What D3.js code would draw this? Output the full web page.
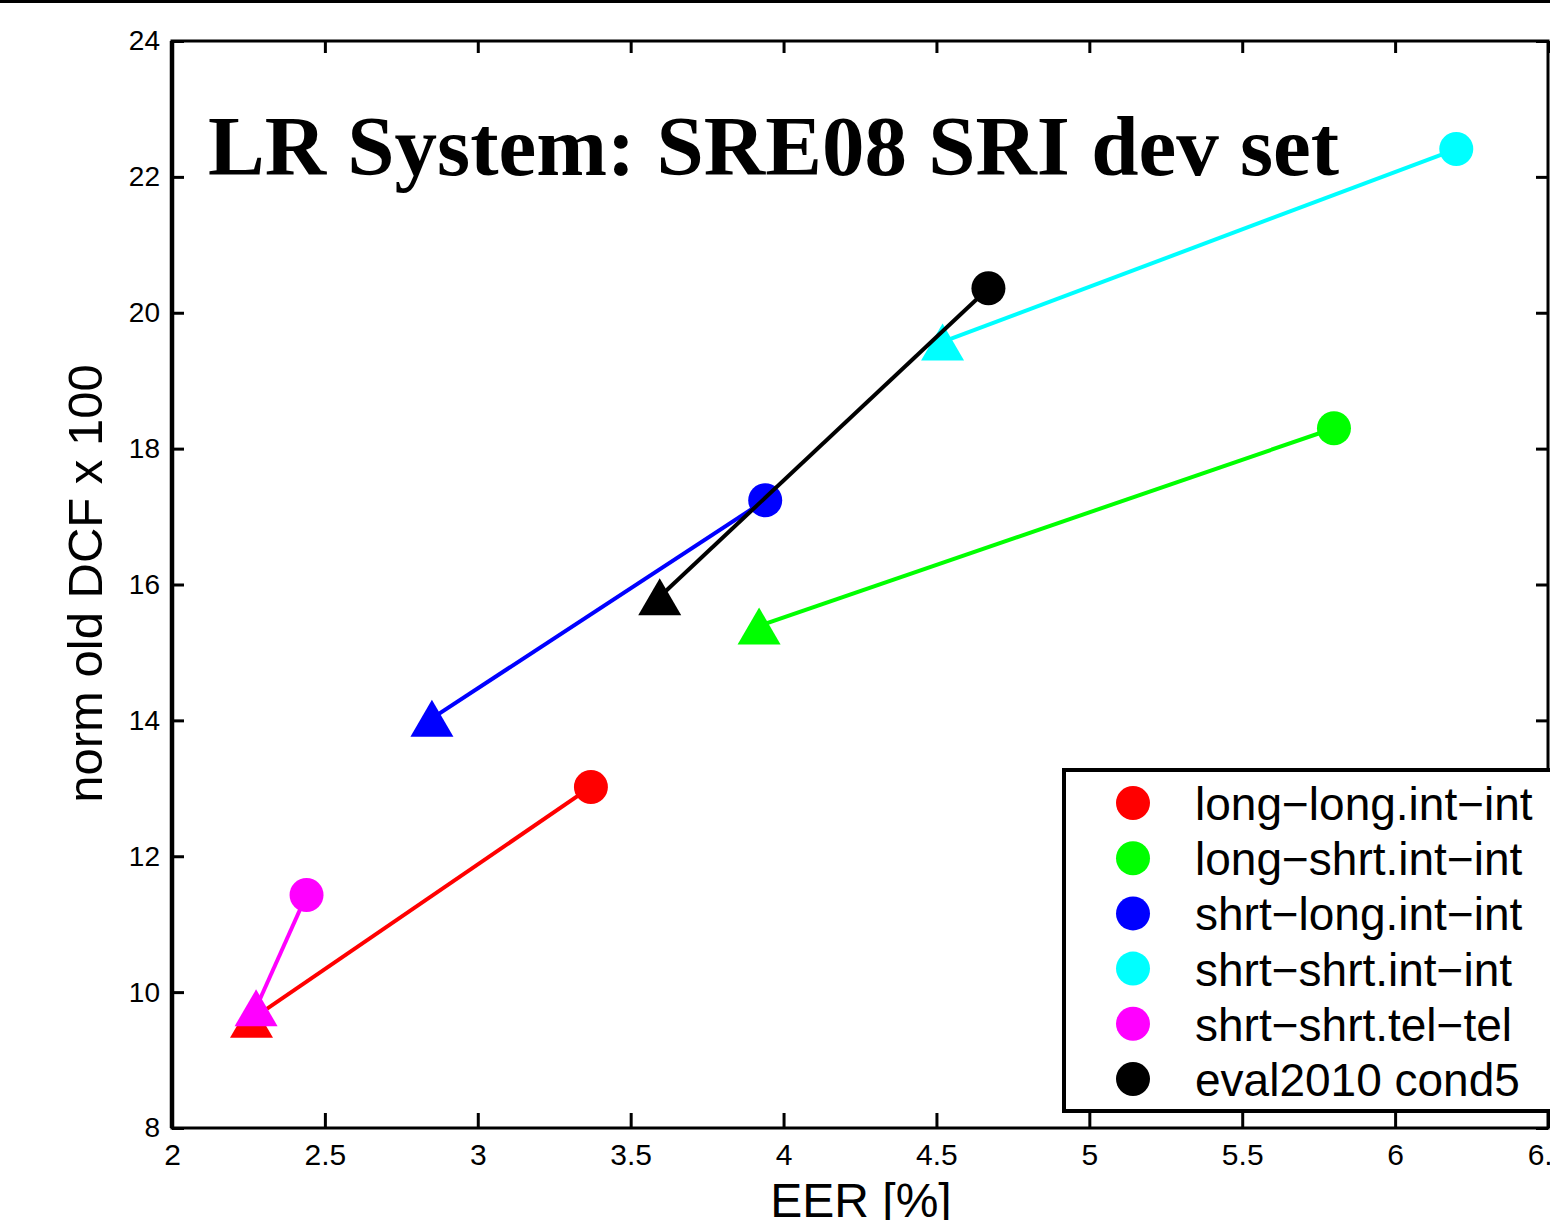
<!DOCTYPE html>
<html>
<head>
<meta charset="utf-8">
<script src="https://cdn.jsdelivr.net/npm/d3@7"></script>
<style>
  body { margin: 0; background: #fff; }
  svg { display: block; }
</style>
</head>
<body>
<svg id="chart"></svg>
<script>
var W = 1550, H = 1220;
var margin = { top: 41, left: 172, right: 2, bottom: 92 }

// series: circle = start, triangle = end
var names = ["long\u2212long.int\u2212int", "long\u2212shrt.int\u2212int", "shrt\u2212long.int\u2212int",
             "shrt\u2212shrt.int\u2212int", "shrt\u2212shrt.tel\u2212tel", "eval2010 cond5"]
var colors = ["#ff0000", "#00ff00", "#0000ff", "#00ffff", "#ff00ff", "#000000"]
var startEER = [3.37, 5.80, 3.94, 6.20, 2.44, 4.67]
var startDCF = [13.02, 18.30, 17.24, 22.41, 11.43, 20.36]
var endEER   = [2.26, 3.92, 2.85, 4.52, 2.275, 3.595]
var endDCF   = [9.60, 15.39, 14.03, 19.57, 9.77, 15.82]

var xTicks = [2, 2.5, 3, 3.5, 4, 4.5, 5, 5.5, 6, 6.5]
var yTicks = [8, 10, 12, 14, 16, 18, 20, 22, 24]

var svg = d3.select("#chart").attr("width", W).attr("height", H)

// thin rule at very top of page
svg.append("rect").attr("x", 0).attr("y", 0).attr("width", W).attr("height", 3).attr("fill", "#000")

var x = d3.scaleLinear().domain([2, 6.5]).range([margin.left, W - margin.right])
var y = d3.scaleLinear().domain([8, 24]).range([H - margin.bottom, margin.top])

var tickFont = "'Liberation Sans', Arial, Helvetica, sans-serif"

function styleAxis(g) {
    g.select(".domain").remove()
    g.selectAll(".tick line").attr("stroke", "#000").attr("stroke-width", 3)
    g.selectAll(".tick text").attr("fill", "#000").style("font-family", tickFont)
}

svg.append("g")
    .attr("transform", "translate(0," + y(8) + ")")
    .call(d3.axisBottom(x).tickValues(xTicks).tickSize(-15).tickPadding(16).tickFormat(d3.format("")))
    .call(styleAxis)
    .selectAll("text").style("font-size", "30px")

svg.append("g")
    .attr("transform", "translate(0," + y(24) + ")")
    .call(d3.axisTop(x).tickValues(xTicks).tickSize(-12).tickFormat(""))
    .call(styleAxis)

svg.append("g")
    .attr("transform", "translate(" + x(2) + ",0)")
    .call(d3.axisLeft(y).tickValues(yTicks).tickSize(-12).tickPadding(12).tickFormat(d3.format("")))
    .call(styleAxis)
    .selectAll("text").style("font-size", "28px")

svg.append("g")
    .attr("transform", "translate(" + x(6.5) + ",0)")
    .call(d3.axisRight(y).tickValues(yTicks).tickSize(-12).tickFormat(""))
    .call(styleAxis)

// frame
svg.append("rect")
    .attr("x", x(2)).attr("y", y(24))
    .attr("width", x(6.5) - x(2)).attr("height", y(8) - y(24))
    .attr("fill", "none").attr("stroke", "#000").attr("stroke-width", 3)
svg.append("line")
    .attr("x1", x(2)).attr("x2", x(2)).attr("y1", y(24)).attr("y2", y(8))
    .attr("stroke", "#000").attr("stroke-width", 4.5)

// axis labels
svg.append("text")
    .attr("x", 861)
    .attr("y", 1217)
    .attr("text-anchor", "middle")
    .style("font-family", tickFont)
    .style("font-size", "48px")
    .text("EER [%]")

svg.append("text")
    .attr("transform", "translate(102," + (y(16) - 1) + ") rotate(-90)")
    .attr("text-anchor", "middle")
    .style("font-family", tickFont)
    .style("font-size", "49px")
    .text("norm old DCF x 100")

// title inside plot
svg.append("text")
    .attr("x", 208)
    .attr("y", 175)
    .style("font-family", "'Liberation Serif', 'Times New Roman', serif")
    .style("font-weight", "bold")
    .style("font-size", "85px")
    .text("LR System: SRE08 SRI dev set")

// series
var idx = d3.range(names.length)
var r = 17, triW = 43, triH = 37

function triangle(cx, cy) {
    var p = d3.path()
    p.moveTo(cx, cy - triH / 2)
    p.lineTo(cx + triW / 2, cy + triH / 2)
    p.lineTo(cx - triW / 2, cy + triH / 2)
    p.closePath()
    return p.toString()
}

var series = svg.append("g").selectAll("g")
    .data(idx)
    .join("g")

series.append("line")
    .attr("x1", i => x(startEER[i]))
    .attr("y1", i => y(startDCF[i]))
    .attr("x2", i => x(endEER[i]))
    .attr("y2", i => y(endDCF[i]))
    .attr("stroke", i => colors[i])
    .attr("stroke-width", 4)

series.append("circle")
    .attr("cx", i => x(startEER[i]))
    .attr("cy", i => y(startDCF[i]))
    .attr("r", r)
    .attr("fill", i => colors[i])

series.append("path")
    .attr("d", i => triangle(x(endEER[i]), y(endDCF[i])))
    .attr("fill", i => colors[i])

// legend
var lg = svg.append("g")
lg.append("rect")
    .attr("x", 1064).attr("y", 770)
    .attr("width", 1471).attr("height", 341)
    .attr("fill", "#fff").attr("stroke", "#000").attr("stroke-width", 4)

var rowY = d3.scaleLinear().domain([0, 5]).range([803, 1079])

lg.selectAll("circle")
    .data(idx)
    .join("circle")
    .attr("cx", 1133)
    .attr("cy", i => rowY(i))
    .attr("r", r)
    .attr("fill", i => colors[i])

lg.selectAll("text")
    .data(idx)
    .join("text")
    .attr("x", 1195)
    .attr("y", i => rowY(i) + 17)
    .style("font-family", tickFont)
    .style("font-size", "46px")
    .text(i => names[i])
</script>
</body>
</html>
